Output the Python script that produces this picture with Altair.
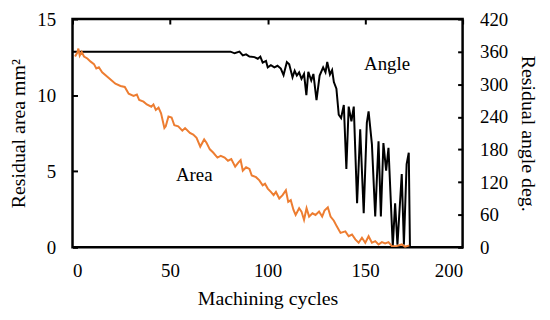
import altair as alt
import pandas as pd

# ---- data ----
angle_cycle = [0, 81, 83.1, 85.6, 87.3, 89.0, 90.7, 93.3, 95.0, 96.3, 97.5, 99.2, 100.1,
               101.7, 103.5, 105.1, 106.8, 108.2, 109.9, 111.1, 112.8, 113.9, 115.0, 116.2,
               117.4, 118.7, 119.9, 120.9, 122.4, 123.5, 125.1, 126.7, 128.5, 129.7, 130.6,
               132.0, 133.1, 134.0, 135.3, 136.5, 137.7, 139.1, 140.4, 141.6, 143.0, 144.2,
               145.9, 147.5, 149.3, 150.9, 151.8, 153.5, 155.2, 156.9, 158.1, 159.4, 160.8,
               162.0, 164.2, 165.4, 166.6, 168.8, 169.9, 171.3, 172.4, 173.0]
angle_deg = [360, 360, 357, 360, 353, 355, 351, 350, 347, 351, 340, 343, 331,
             335, 331, 334, 329, 317, 341, 337, 313, 325, 316, 322,
             310, 319, 280, 323, 307, 319, 271, 316, 331, 322, 341,
             318, 326, 304, 292, 244, 238, 262, 144, 259, 232, 259,
             81, 217, 63, 229, 250, 190, 57, 195, 57, 192, 141,
             183, 2, 81, 5, 135, 5, 153, 174, 2]

area_cycle = [1.3, 2.5, 3.0, 3.7, 4.7, 5.9, 7.6, 9.3, 11.0, 12.2, 13.5, 15.2, 18.6, 22.0,
              24.6, 26.8, 28.8, 31.3, 33.0, 34.2, 36.4, 38.1, 40.4, 41.5, 42.7, 44.1, 45.4,
              47.1, 47.8, 49.2, 50.8, 52.2, 54.2, 56.3, 57.7, 60.2, 61.9, 63.6, 65.5, 67.5,
              68.7, 70.4, 72.1, 74.3, 76.0, 78.0, 79.7, 81.4, 83.4, 85.1, 86.2, 87.3, 89.0,
              90.7, 91.9, 94.1, 95.8, 97.5, 98.7, 100.1, 101.7, 103.1, 104.3, 106.0, 107.7,
              109.4, 110.6, 111.9, 113.3, 114.4, 116.2, 117.4, 118.7, 120.0, 121.3, 123.0,
              124.6, 126.4, 128.0, 129.2, 130.9, 132.3, 134.0, 135.5, 137.4, 139.9, 141.6,
              143.3, 145.0, 146.7, 148.4, 150.1, 151.8, 153.5, 155.2, 156.9, 158.6, 160.3,
              162.0, 163.7, 166.2, 168.8, 170.5, 172.7]
area_mm2 = [12.54, 12.8, 13.06, 12.6, 12.84, 12.54, 12.41, 12.2, 12.04, 11.76, 11.83, 11.5,
            11.12, 10.75, 10.6, 10.54, 10.1, 9.95, 10.04, 9.68, 9.57, 9.39, 9.24, 9.39, 9.03,
            9.18, 8.81, 7.84, 7.95, 8.6, 8.53, 8.02, 7.95, 7.67, 7.84, 7.52, 7.41, 7.2, 6.62,
            7.09, 6.87, 6.44, 6.23, 5.9, 6.01, 5.9, 5.69, 5.8, 5.3, 5.58, 5.73, 5.04, 5.26,
            5.15, 4.72, 4.61, 4.4, 4.07, 4.18, 3.86, 3.64, 3.43, 3.64, 3.21, 3.43, 3.75, 2.99,
            3.1, 2.46, 2.13, 2.57, 2.35, 1.81, 2.57, 2.02, 2.24, 2.13, 2.35, 2.02, 2.41, 2.63,
            2.02, 1.75, 1.38, 0.95, 1.05, 0.73, 0.84, 0.52, 0.3, 0.63, 0.3, 0.73, 0.3, 0.41,
            0.19, 0.34, 0.26, 0.34, 0.08, 0.08, 0.19, 0.05, 0.13]

x_ticks = [0, 50, 100, 150, 200]
area_ticks = [0, 5, 10, 15]
angle_ticks = [0, 60, 120, 180, 240, 300, 360, 420]

labels_area = {"cycle": [62.4], "area": [4.72], "label": ["Area"]}
labels_angle = {"cycle": [161.3], "angle": [337], "label": ["Angle"]}

angle_df = pd.DataFrame({"cycle": angle_cycle, "angle": angle_deg})
area_df = pd.DataFrame({"cycle": area_cycle, "area": area_mm2})

FONT = "Liberation Serif"

def x_enc():
    return alt.X("cycle:Q", scale=alt.Scale(domain=[0, 200], nice=False),
                 axis=alt.Axis(values=x_ticks, title="Machining cycles", tickSize=0,
                               domain=False, grid=True, gridDash=[5, 2000],
                               gridColor="black", gridWidth=2, gridOpacity=1,
                               labelPadding=14, titlePadding=9, format="d"))

def y_area():
    return alt.Y("area:Q", scale=alt.Scale(domain=[0, 15], nice=False),
                 axis=alt.Axis(values=area_ticks, orient="left", title="Residual area mm²",
                               tickSize=0, domain=False, grid=True, gridDash=[5, 2000],
                               gridColor="black", gridWidth=2, gridOpacity=1,
                               labelPadding=17, titlePadding=8))

def y_angle():
    return alt.Y("angle:Q", scale=alt.Scale(domain=[0, 420], nice=False),
                 axis=alt.Axis(values=angle_ticks, orient="right", title="Residual angle deg.",
                               tickSize=0, domain=False, grid=True, gridDash=[5, 2000],
                               gridColor="black", gridWidth=2, gridOpacity=1,
                               labelPadding=17, titlePadding=10))

angle_line = alt.Chart(angle_df).mark_line(color="black", strokeWidth=2).encode(
    x=x_enc(), y=y_angle())
angle_text = alt.Chart(pd.DataFrame(labels_angle)).mark_text(
    font=FONT, fontSize=19, color="black").encode(x=x_enc(), y=y_angle(), text="label:N")

area_line = alt.Chart(area_df).mark_line(color="#ED7D31", strokeWidth=2).encode(
    x=x_enc(), y=y_area())
area_text = alt.Chart(pd.DataFrame(labels_area)).mark_text(
    font=FONT, fontSize=19, color="black").encode(x=x_enc(), y=y_area(), text="label:N")

chart = alt.layer(
    alt.layer(angle_line, angle_text),
    alt.layer(area_line, area_text),
).resolve_scale(y="independent").properties(
    width=393, height=230,
    autosize=alt.AutoSizeParams(type="none"),
    padding={"left": 65, "top": 10, "right": 80, "bottom": 64},
    background="white",
).configure_view(stroke="black", strokeWidth=2.5).configure_axis(
    labelFont=FONT, labelFontSize=19, labelColor="black",
    titleFont=FONT, titleFontSize=20, titleFontWeight="normal", titleColor="black",
)

chart.save("out.html", embed_options={"renderer": "svg", "actions": False})
